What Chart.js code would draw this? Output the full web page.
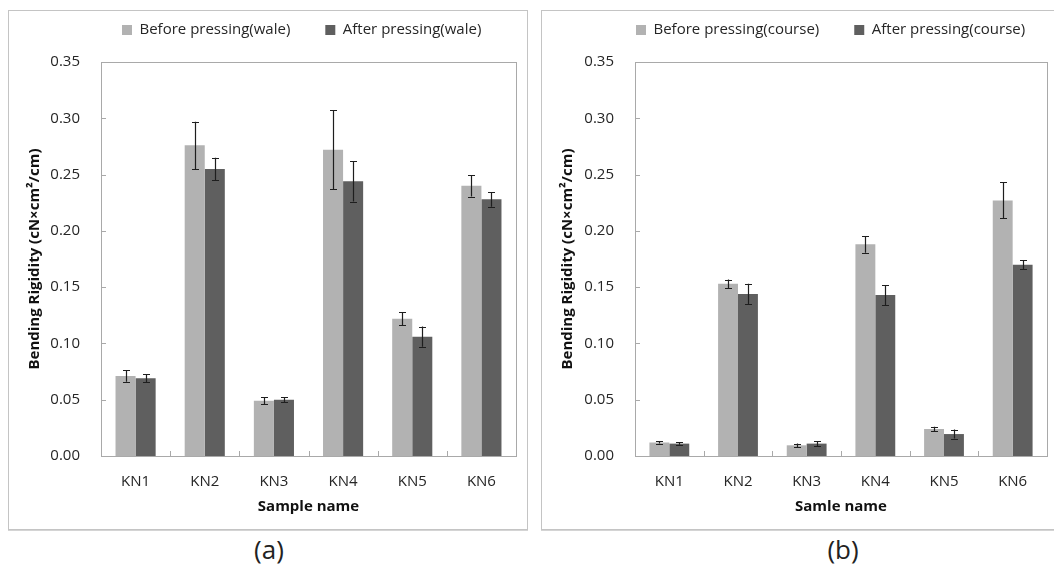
<!DOCTYPE html>
<html>
<head>
<meta charset="utf-8">
<script src="https://cdn.jsdelivr.net/npm/chart.js@4.4.1/dist/chart.umd.min.js"></script>
<style>
  html, body { margin: 0; padding: 0; background: #fff; width: 1054px; height: 568px; overflow: hidden; position: relative; }
  .box { position: absolute; box-sizing: border-box; border: 1px solid #c4c4c4; box-shadow: 0 1px 0 #d4d4d4; background: #fff; }
  .box canvas { position: absolute; left: 0; top: 0; }
  .cap { position: absolute; font-family: "Open Sans", sans-serif; font-size: 26px; color: #222; transform: translateX(-50%); line-height: 30px; }
</style>
</head>
<body>
<div class="box" id="boxA" style="left:8px; top:10px; width:520px; height:520px;"><canvas id="chartA" width="518" height="518"></canvas></div>
<div class="box" id="boxB" style="left:541px; top:10px; width:520px; height:520px;"><canvas id="chartB" width="518" height="518"></canvas></div>
<div class="cap" style="left:269px; top:534px;">(a)</div>
<div class="cap" style="left:843px; top:534px;">(b)</div>
<script>
// ---- data ----
const categories = ['KN1', 'KN2', 'KN3', 'KN4', 'KN5', 'KN6'];
const yTickValues = [0, 0.05, 0.10, 0.15, 0.20, 0.25, 0.30, 0.35];

const waleBefore    = [0.071, 0.276, 0.049, 0.272, 0.122, 0.240];
const waleBeforeErr = [0.005, 0.021, 0.003, 0.035, 0.006, 0.0095];
const waleAfter     = [0.069, 0.255, 0.050, 0.244, 0.106, 0.228];
const waleAfterErr  = [0.0035, 0.010, 0.002, 0.018, 0.009, 0.0065];

const courseBefore    = [0.012, 0.153, 0.0095, 0.188, 0.024, 0.227];
const courseBeforeErr = [0.001, 0.0037, 0.0016, 0.0074, 0.002, 0.016];
const courseAfter     = [0.011, 0.144, 0.011, 0.143, 0.0195, 0.170];
const courseAfterErr  = [0.001, 0.009, 0.0024, 0.009, 0.004, 0.0038];

const FONT = '"Open Sans", sans-serif';
const LIGHT = '#b2b2b2';
const DARK = '#5f5f5f';

// error bars drawn through the chart's own scales
const errorBarPlugin = {
  id: 'errorBars',
  afterDatasetsDraw(chart) {
    const ctx = chart.ctx;
    const y = chart.scales.y;
    ctx.save();
    ctx.strokeStyle = '#1e1e1e';
    ctx.lineWidth = 1.2;
    chart.data.datasets.forEach((ds, i) => {
      const meta = chart.getDatasetMeta(i);
      meta.data.forEach((bar, j) => {
        const v = ds.data[j], e = ds.errors[j];
        const yt = y.getPixelForValue(v + e);
        const yb = y.getPixelForValue(v - e);
        const x = Math.round(bar.x) + 0.5;
        ctx.beginPath();
        ctx.moveTo(x, yt); ctx.lineTo(x, yb);
        ctx.moveTo(x - 3.5, Math.round(yt) + 0.5); ctx.lineTo(x + 3.5, Math.round(yt) + 0.5);
        ctx.moveTo(x - 3.5, Math.round(yb) + 0.5); ctx.lineTo(x + 3.5, Math.round(yb) + 0.5);
        ctx.stroke();
      });
    });
    ctx.restore();
  }
};

// plot frame + inward tick marks
const framePlugin = {
  id: 'frame',
  beforeDatasetsDraw(chart) {
    const {ctx, chartArea: a} = chart;
    const x = chart.scales.x, y = chart.scales.y;
    ctx.save();
    ctx.strokeStyle = '#a9a9a9';
    ctx.lineWidth = 1;
    ctx.strokeRect(Math.round(a.left) + 0.5, Math.round(a.top) + 0.5, Math.round(a.right - a.left), Math.round(a.bottom - a.top));
    ctx.beginPath();
    y.ticks.forEach((t, i) => {
      const py = Math.round(y.getPixelForTick(i)) + 0.5;
      ctx.moveTo(a.left, py); ctx.lineTo(a.left + 5, py);
    });
    for (let i = 1; i < categories.length; i++) {
      const px = Math.round((x.getPixelForValue(i - 1) + x.getPixelForValue(i)) / 2) + 0.5;
      ctx.moveTo(px, a.bottom); ctx.lineTo(px, a.bottom - 5);
    }
    ctx.stroke();
    ctx.restore();
  }
};

// keeps the legend on one row and places it where the reference has it
const legendPlacePlugin = {
  id: 'legendPlace',
  afterInit(chart) {
    const lg = chart.legend;
    if (!lg) return;
    const orig = lg.update;
    lg.update = function (maxWidth, maxHeight, margins) {
      return orig.call(this, 1000, maxHeight, margins);
    };
  },
  beforeDraw(chart, args, opts) {
    const lg = chart.legend;
    if (!lg) return;
    const pad = 35;
    lg.left = opts.startX - pad;
    lg.right = lg.left + 1000;
    lg.top = opts.rowCenterY - pad - 7.5;
  }
};

function makeChart(id, labels, before, beforeErr, after, afterErr, xTitle, plotLeft, padRight, legendX) {
  return new Chart(document.getElementById(id), {
    type: 'bar',
    data: {
      labels: categories,
      datasets: [
        { label: labels[0], data: before, errors: beforeErr, backgroundColor: LIGHT, borderWidth: 0,
          categoryPercentage: 0.58, barPercentage: 1.0 },
        { label: labels[1], data: after, errors: afterErr, backgroundColor: DARK, borderWidth: 0,
          categoryPercentage: 0.58, barPercentage: 1.0 }
      ]
    },
    options: {
      responsive: false,
      animation: false,
      events: [],
      layout: { padding: { left: 0, right: padRight, top: -9, bottom: 0 } },
      plugins: {
        tooltip: { enabled: false },
        legend: {
          display: true,
          position: 'top',
          align: 'start',
          labels: { boxWidth: 10, boxHeight: 10, padding: 35, color: '#262626',
                    font: { family: FONT, size: 15 } }
        },
        legendPlace: { startX: legendX, rowCenterY: 19 }
      },
      scales: {
        x: {
          grid: { display: false, drawTicks: false },
          border: { display: false },
          ticks: { color: '#262626', padding: 17, font: { family: FONT, size: 15 } },
          title: { display: true, text: xTitle, color: '#111', padding: { top: 0, bottom: 13 },
                   font: { family: FONT, size: 15, weight: 'bold' } },
          afterFit(s) { s.height = 73; }
        },
        y: {
          min: 0, max: 0.35,
          grid: { display: false, drawTicks: false },
          border: { display: false },
          afterBuildTicks(s) { s.ticks = yTickValues.map(v => ({ value: v })); },
          ticks: { color: '#262626', padding: 21, font: { family: FONT, size: 15 },
                   callback: (v) => Number(v).toFixed(2) },
          title: { display: true, text: 'Bending Rigidity (cN×cm²/cm)', color: '#111',
                   padding: { top: 17, bottom: 0 },
                   font: { family: FONT, size: 15, weight: 'bold' } },
          afterFit(s) { s.width = plotLeft; }
        }
      }
    },
    plugins: [errorBarPlugin, framePlugin, legendPlacePlugin]
  });
}

makeChart('chartA', ['Before pressing(wale)', 'After pressing(wale)'],
  waleBefore, waleBeforeErr, waleAfter, waleAfterErr, 'Sample name', 92, 11, 113);
makeChart('chartB', ['Before pressing(course)', 'After pressing(course)'],
  courseBefore, courseBeforeErr, courseAfter, courseAfterErr, 'Samle name', 93, 13, 94);
</script>
</body>
</html>
